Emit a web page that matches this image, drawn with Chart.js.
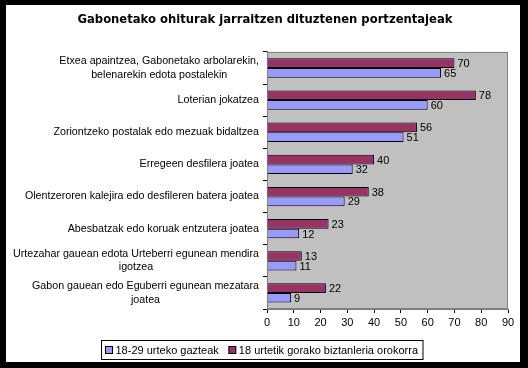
<!DOCTYPE html>
<html>
<head>
<meta charset="utf-8">
<script src="https://cdn.jsdelivr.net/npm/chart.js@4.4.1/dist/chart.umd.min.js"></script>
<style>
  html, body { margin: 0; padding: 0; background: #000; }
  #marco { position: absolute; left: 6px; top: 5px; width: 514px; height: 357px; background: #fff; }
  canvas { display: block; }
</style>
</head>
<body>
<div id="marco"><canvas id="grafikoa" width="514" height="357"></canvas></div>
<script>
// Datuak
const kategoriak = [
  ['Etxea apaintzea, Gabonetako arbolarekin,', 'belenarekin edota postalekin'],
  ['Loterian jokatzea'],
  ['Zoriontzeko postalak edo mezuak bidaltzea'],
  ['Erregeen desfilera joatea'],
  ['Olentzeroren kalejira edo desfileren batera joatea'],
  ['Abesbatzak edo koruak entzutera joatea'],
  ['Urtezahar gauean edota Urteberri egunean mendira', 'igotzea'],
  ['Gabon gauean edo Eguberri egunean mezatara', 'joatea']
];
const gazteak = [65, 60, 51, 32, 29, 12, 11, 9];
const orokorra = [70, 78, 56, 40, 38, 23, 13, 22];
const serieIzenak = ['18-29 urteko gazteak', '18 urtetik gorako biztanleria orokorra'];
const xMin = 0, xMax = 90, xPausoa = 10;

const letra = '"Liberation Sans", Arial, sans-serif';

// grafikoaren atzeko aldea (gris)
const atzekoa = {
  id: 'atzekoa',
  beforeDraw(chart) {
    const {ctx, chartArea: a} = chart;
    ctx.save();
    ctx.fillStyle = '#c0c0c0';
    ctx.fillRect(a.left, a.top, a.right - a.left, a.bottom - a.top);
    ctx.strokeStyle = '#808080';
    ctx.lineWidth = 1;
    ctx.strokeRect(a.left + 0.5, a.top + 0.5, a.right - a.left - 1, a.bottom - a.top - 1);
    ctx.restore();
  }
};

// barren balioak
const balioak = {
  id: 'balioak',
  afterDatasetsDraw(chart) {
    const ctx = chart.ctx;
    ctx.save();
    ctx.font = '11px ' + letra;
    ctx.fillStyle = '#000';
    ctx.textAlign = 'left';
    ctx.textBaseline = 'middle';
    chart.data.datasets.forEach((ds, di) => {
      chart.getDatasetMeta(di).data.forEach((bar, i) => {
        ctx.fillText(ds.data[i], bar.x + 3, bar.y + 1);
      });
    });
    ctx.restore();
  }
};

// kategorien etiketak (lerroak erdiratuta)
const etiketak = {
  id: 'etiketak',
  afterDraw(chart) {
    const ctx = chart.ctx;
    const y = chart.scales.y;
    const eskuina = chart.chartArea.left - 8;
    ctx.save();
    ctx.font = '10.7px ' + letra;
    ctx.fillStyle = '#000';
    ctx.textAlign = 'center';
    ctx.textBaseline = 'middle';
    chart.data.labels.forEach((lerroak, i) => {
      const cy = y.getPixelForTick(i);
      const zabal = Math.max(...lerroak.map(l => ctx.measureText(l).width));
      lerroak.forEach((l, j) => {
        ctx.fillText(l, eskuina - zabal / 2, cy + (j - (lerroak.length - 1) / 2) * 13.5);
      });
    });
    ctx.restore();
  }
};

// legenda koadroarekin
const legenda = {
  id: 'legenda',
  afterDraw(chart) {
    const ctx = chart.ctx;
    ctx.save();
    ctx.font = '11px ' + letra;
    const sets = chart.data.datasets.slice().reverse();
    const w = sets.map(d => ctx.measureText(d.label).width);
    const guztira = 4 + 7 + 3 + w[0] + 10 + 7 + 3 + w[1] + 5;
    const x0 = Math.round(256 - guztira / 2) + 0.5;
    const y0 = 335.5, h = 19;
    ctx.strokeStyle = '#000';
    ctx.lineWidth = 1;
    ctx.strokeRect(x0, y0, guztira, h);
    let x = x0 + 4;
    const cy = y0 + h / 2;
    ctx.textBaseline = 'middle';
    ctx.textAlign = 'left';
    sets.forEach((d, i) => {
      ctx.fillStyle = d.backgroundColor;
      ctx.fillRect(x, cy - 3.5, 7, 7);
      ctx.strokeRect(x, cy - 3.5, 7, 7);
      ctx.fillStyle = '#000';
      ctx.fillText(d.label, x + 10, cy + 1);
      x += 10 + w[i] + 10;
    });
    ctx.restore();
  }
};

new Chart(document.getElementById('grafikoa').getContext('2d'), {
  type: 'bar',
  data: {
    labels: kategoriak,
    datasets: [{
      label: serieIzenak[1],
      data: orokorra,
      backgroundColor: '#993366',
      borderColor: '#000',
      borderWidth: 1,
      categoryPercentage: 0.6,
      barPercentage: 1.0
    }, {
      label: serieIzenak[0],
      data: gazteak,
      backgroundColor: '#9999ff',
      borderColor: '#000',
      borderWidth: 1,
      categoryPercentage: 0.6,
      barPercentage: 1.0
    }]
  },
  options: {
    indexAxis: 'y',
    responsive: false,
    animation: false,
    layout: { padding: { left: 16, right: 12, top: 0, bottom: 0 } },
    plugins: {
      legend: { display: false },
      tooltip: { enabled: false },
      title: {
        display: true,
        text: 'Gabonetako ohiturak jarraitzen dituztenen portzentajeak',
        color: '#000',
        font: { family: '"DejaVu Sans", Tahoma, sans-serif', size: 11.6, weight: 'bold' },
        padding: { top: 8, bottom: 25 }
      }
    },
    scales: {
      x: {
        min: xMin,
        max: xMax,
        ticks: { stepSize: xPausoa, color: '#000', padding: 3, font: { family: letra, size: 11 } },
        grid: { drawOnChartArea: false, drawTicks: true, tickLength: 4, color: '#000' },
        border: { color: '#808080' },
        afterFit(s) { s.height = 53; }
      },
      y: {
        ticks: { display: false },
        grid: { drawOnChartArea: false, drawTicks: true, tickLength: 4, color: '#000', offset: true },
        border: { color: '#808080' },
        afterFit(s) { s.width = 245; }
      }
    }
  },
  plugins: [atzekoa, balioak, etiketak, legenda]
});
</script>
</body>
</html>
